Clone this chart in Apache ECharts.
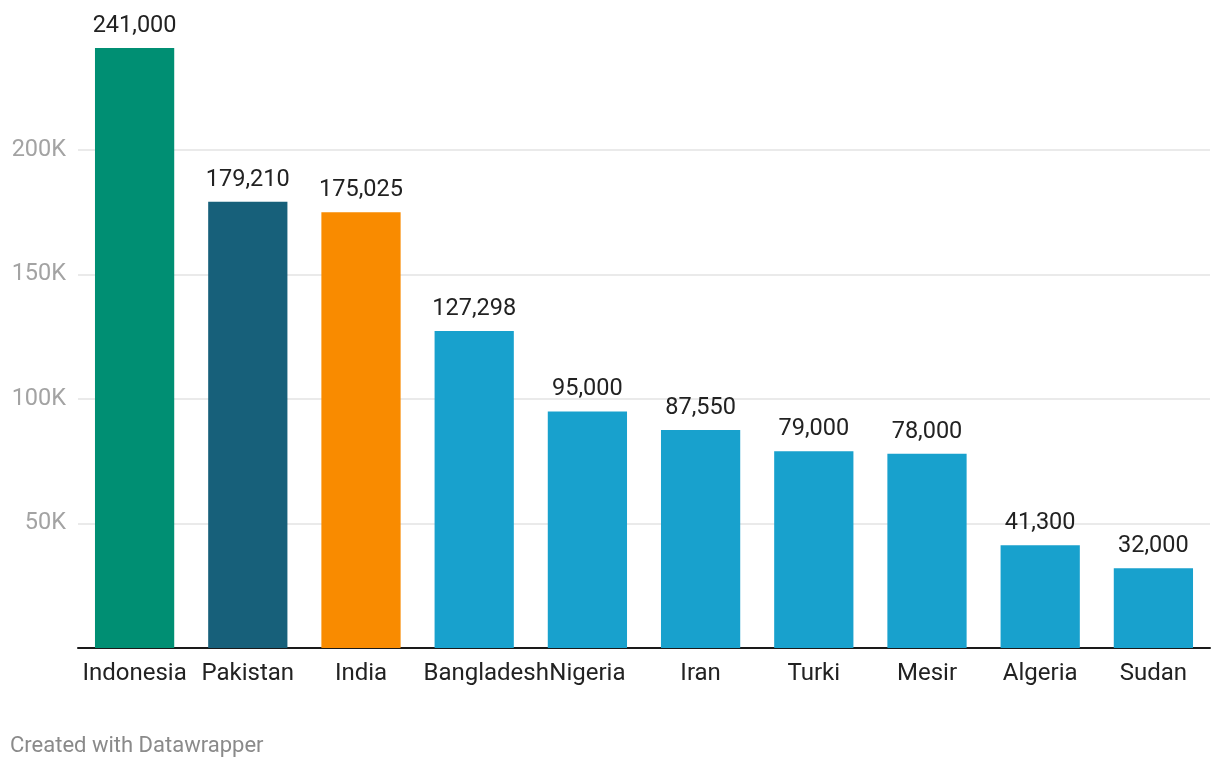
<!DOCTYPE html>
<html>
<head>
<meta charset="utf-8">
<script src="https://cdn.jsdelivr.net/npm/echarts@6/dist/echarts.min.js"></script>
<style>
html,body{margin:0;padding:0;background:#fff;}
#chart{width:1220px;height:768px;}
</style>
</head>
<body>
<div id="chart"></div>
<script>
const categories = ['Indonesia','Pakistan','India','Bangladesh','Nigeria','Iran','Turki','Mesir','Algeria','Sudan'];
const values = [241000,179210,175025,127298,95000,87550,79000,78000,41300,32000];
const barColors = ['#008f73','#17607a','#f98b00','#18a1cd','#18a1cd','#18a1cd','#18a1cd','#18a1cd','#18a1cd','#18a1cd'];
const yMax = 250000;
const yInterval = 50000;

const chart = echarts.init(document.getElementById('chart'));
chart.setOption({
  animation: false,
  textStyle: {fontFamily: 'Roboto'},
  grid: {left: 78, right: 10, top: 25.5, bottom: 120, containLabel: false},
  graphic: [{
    type: 'text', left: 10, top: 735,
    style: {text: 'Created with Datawrapper', fill: '#8a8a8a', fontSize: 22, fontFamily: 'Roboto'}
  }],
  xAxis: {
    type: 'category',
    data: categories.map(c => c === 'Bangladesh'
      ? {value: c, textStyle: {padding: [0, 0, 0, 24]}}
      : c),
    axisLine: {show: true, lineStyle: {color: '#1a1a1a', width: 2}},
    axisTick: {show: false},
    axisLabel: {interval: 0, color: '#222', fontSize: 24, margin: 14, hideOverlap: false}
  },
  yAxis: {
    type: 'value',
    min: 0, max: yMax, interval: yInterval,
    axisLine: {show: false},
    axisTick: {show: false},
    splitLine: {show: true, showMinLine: false, showMaxLine: false, lineStyle: {color: '#e3e3e3', width: 1.5}},
    axisLabel: {
      color: '#a3a3a3', fontSize: 23.5, margin: 12,
      showMinLabel: false, showMaxLabel: false,
      formatter: v => v === 0 ? '' : (v / 1000) + 'K'
    }
  },
  series: [{
    type: 'bar',
    data: values.map((v, i) => ({value: v, itemStyle: {color: barColors[i]}})),
    barWidth: '70%',
    label: {
      show: true, position: 'top', distance: 10,
      color: '#222', fontSize: 23.5,
      formatter: p => p.value.toLocaleString('en-US')
    }
  }]
});
</script>
</body>
</html>
